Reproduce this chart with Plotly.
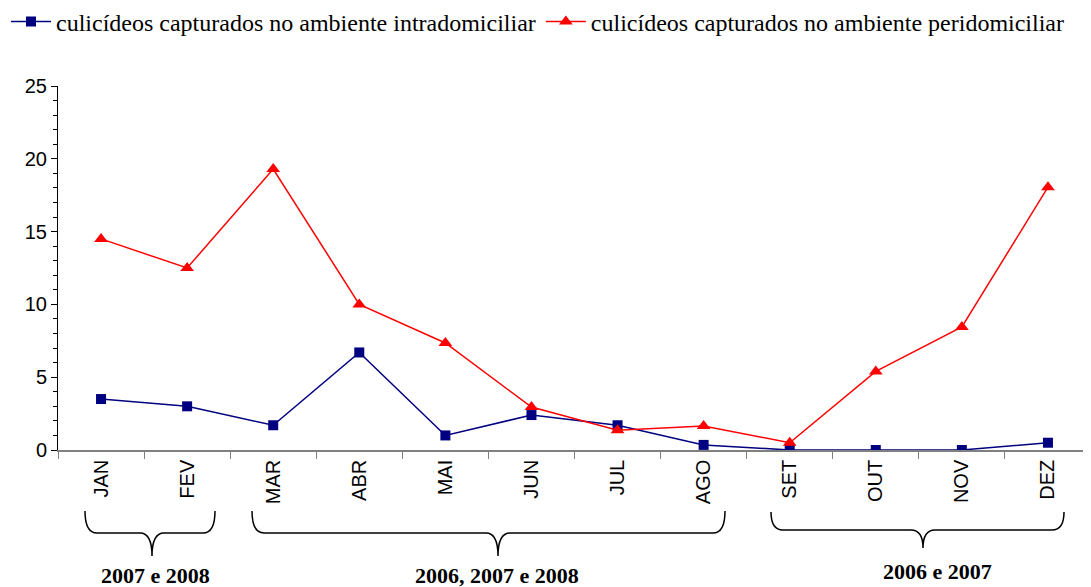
import plotly.graph_objects as go

months = ["JAN", "FEV", "MAR", "ABR", "MAI", "JUN", "JUL", "AGO", "SET", "OUT", "NOV", "DEZ"]
intra = [3.5, 3.0, 1.7, 6.7, 1.0, 2.4, 1.7, 0.35, 0.0, 0.0, 0.0, 0.5]
peri = [14.5, 12.5, 19.3, 10.0, 7.35, 2.95, 1.35, 1.65, 0.5, 5.4, 8.45, 18.05]
intra_name = "culicídeos capturados no ambiente intradomiciliar"
peri_name = "culicídeos capturados no ambiente peridomiciliar"
group_labels = ["2007 e 2008", "2006, 2007 e 2008", "2006 e 2007"]

# page body has an 8px margin; work in screen pixels and convert
O = 8
W, H = 1091 - O, 587 - O
L, R, T, B = 58 - O, 0, 86 - O, 137
PW, PH = W - L - R, H - T - B

def px(x):
    return (x - O - L) / PW

def py(y):
    return (H - B - (y - O)) / PH

fig = go.Figure()
fig.add_trace(go.Scatter(x=months, y=intra, name=intra_name, mode="lines+markers",
                         line=dict(color="#000080", width=1.5),
                         marker=dict(symbol="square", size=10, color="#000080")))
fig.add_trace(go.Scatter(x=months, y=peri, name=peri_name, mode="lines+markers",
                         line=dict(color="#ff0000", width=1.5),
                         marker=dict(symbol="triangle-up", size=12, color="#ff0000")))

def brace(x0, x1, xm, yt, yb, yp):
    r = 12
    path = (f"M {px(x0)},{py(yt)} Q {px(x0)},{py(yb)} {px(x0 + r)},{py(yb)} "
            f"L {px(xm - r)},{py(yb)} Q {px(xm)},{py(yb)} {px(xm)},{py(yp)} "
            f"Q {px(xm)},{py(yb)} {px(xm + r)},{py(yb)} "
            f"L {px(x1 - r)},{py(yb)} Q {px(x1)},{py(yb)} {px(x1)},{py(yt)}")
    return dict(type="path", path=path, xref="paper", yref="paper",
                line=dict(color="black", width=1.5))

braces = [(85, 215, 152, 511, 533, 556), (252, 725, 498, 511, 533, 556), (771, 1064, 923, 512, 530, 548)]
label_pos = [(155, 575), (497, 575), (937, 571)]
fig.update_layout(shapes=[brace(*b) for b in braces])
for txt, (lx, ly) in zip(group_labels, label_pos):
    fig.add_annotation(text=f"<b>{txt}</b>", x=px(lx), y=py(ly), xref="paper", yref="paper",
                       showarrow=False, font=dict(family="Liberation Serif", size=22, color="black"),
                       xanchor="center", yanchor="middle")

fig.update_layout(
    width=W, height=H,
    margin=dict(l=L, r=R, t=T, b=B, autoexpand=False),
    plot_bgcolor="white", paper_bgcolor="white",
    font=dict(family="Liberation Sans", size=20, color="black"),
    legend=dict(orientation="h", x=px(6), y=py(22), xanchor="left", yanchor="middle",
                font=dict(family="Liberation Serif", size=24, color="black"),
                itemwidth=40, tracegroupgap=0, bgcolor="rgba(0,0,0,0)"),
    xaxis=dict(type="category", range=[-0.5, 11.5], showgrid=False, showline=True,
               linecolor="#808080", linewidth=1.5, ticks="outside", tickson="boundaries",
               ticklen=7, tickcolor="#808080", tickangle=-90,
               tickfont=dict(family="Liberation Sans", size=20, color="black")),
    yaxis=dict(range=[0, 25], dtick=5, showgrid=False, showline=True, linecolor="black",
               linewidth=1, ticks="outside", ticklen=6, tickcolor="black", zeroline=False,
               tickfont=dict(family="Liberation Sans", size=20, color="black"),
               minor=dict(dtick=1, ticks="outside", ticklen=4, tickcolor="black")),
)

fig.write_html("out.html")
